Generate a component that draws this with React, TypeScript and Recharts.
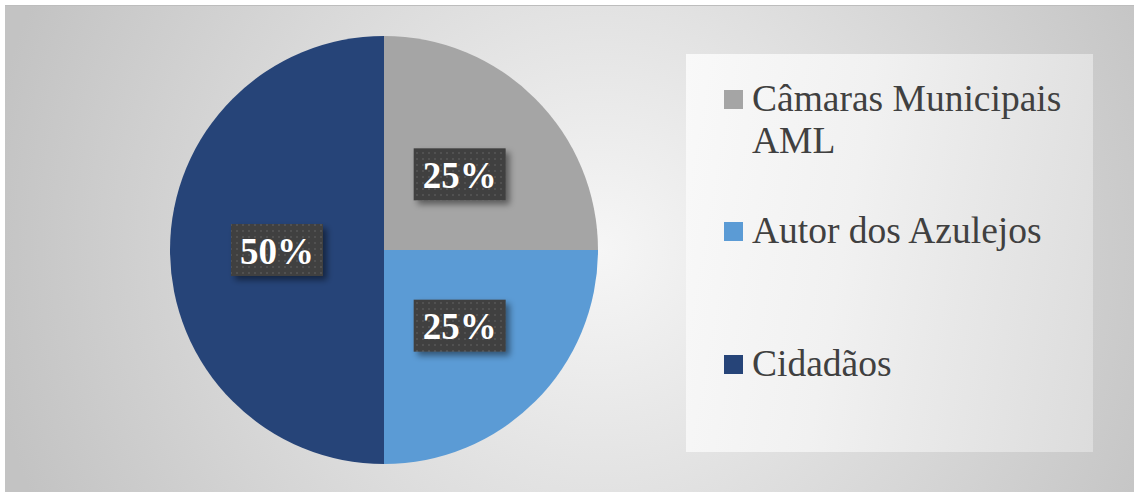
import React from 'react';
import { PieChart, Pie, Cell, Legend } from 'recharts';

const categories = ['Câmaras Municipais AML', 'Autor dos Azulejos', 'Cidadãos'];
const values = [25, 25, 50];
const colors = ['#A5A5A5', '#5B9BD5', '#264478'];

const data = categories.map((name, i) => ({ name, value: values[i] }));

const RADIAN = Math.PI / 180;

const renderLabel = (props: any) => {
  const { cx, cy, midAngle, outerRadius, percent, index } = props;
  const r = outerRadius * 0.5;
  const x = cx + r * Math.cos(-midAngle * RADIAN);
  const y = cy + r * Math.sin(-midAngle * RADIAN);
  const w = 92;
  const h = 52;
  const pid = `dots-${index}`;
  const fid = `shadow-${index}`;
  return (
    <g key={`lbl-${index}`}>
      <defs>
        <pattern id={pid} x="0" y="0" width="6" height="6" patternUnits="userSpaceOnUse">
          <rect width="6" height="6" fill="#404040" />
          <circle cx="3" cy="3" r="1.1" fill="#555555" />
        </pattern>
        <filter id={fid} x="-20%" y="-20%" width="150%" height="160%">
          <feDropShadow dx="4" dy="4" stdDeviation="3" floodColor="#000" floodOpacity="0.45" />
        </filter>
      </defs>
      <rect x={x - w / 2} y={y - h / 2} width={w} height={h} fill={`url(#${pid})`} filter={`url(#${fid})`} />
      <text
        x={x}
        y={y + 1}
        textAnchor="middle"
        dominantBaseline="central"
        fill="#ffffff"
        fontFamily="'Liberation Serif', 'Times New Roman', serif"
        fontWeight="bold"
        fontSize={37}
      >
        {`${Math.round(percent * 100)}%`}
      </text>
    </g>
  );
};

const itemTops = [24, 156, 289];

const renderLegend = (props: any) => {
  const payload: any[] = props.payload || [];
  const ordered = categories.map((c) => payload.find((p: any) => p.value === c)).filter(Boolean);
  return (
    <div
      style={{
        position: 'relative',
        width: 407,
        height: 398,
        background: 'linear-gradient(100deg, #f9f9f9 0%, #f1f1f1 40%, #dcdcdc 100%)',
        fontFamily: "'Liberation Serif', 'Times New Roman', serif",
        fontSize: 37.5,
        lineHeight: '42px',
        color: '#404040',
      }}
    >
      {ordered.map((entry: any, i: number) => (
        <div key={entry.value} style={{ position: 'absolute', left: 38, top: itemTops[i], display: 'flex', alignItems: 'flex-start' }}>
          <div style={{ width: 19, height: 19, background: entry.color, marginTop: 12, marginRight: 9, flexShrink: 0 }} />
          <div style={{ width: 330, textAlign: 'left' }}>{entry.value}</div>
        </div>
      ))}
    </div>
  );
};

export default function App() {
  return (
    <div style={{ position: 'absolute', left: 0, top: 0, width: 1134, height: 492, background: '#ffffff' }}>
      <svg width={1134} height={492} style={{ position: 'absolute', left: 0, top: 0 }}>
        <defs>
          <radialGradient id="bg" cx="600" cy="250" r="620" gradientUnits="userSpaceOnUse">
            <stop offset="0%" stopColor="#f6f6f6" />
            <stop offset="100%" stopColor="#c3c3c3" />
          </radialGradient>
        </defs>
        <rect x={5} y={5} width={1129} height={487} fill="url(#bg)" />
        <line x1={5} y1={5.5} x2={1134} y2={5.5} stroke="#bdbdbd" strokeWidth={1} />
      </svg>
      <div style={{ position: 'absolute', left: 0, top: 0 }}>
        <PieChart width={1134} height={492} margin={{ top: 0, right: 0, bottom: 0, left: 0 }}>
          <Pie
            data={data}
            dataKey="value"
            nameKey="name"
            cx={384}
            cy={250}
            outerRadius={214}
            startAngle={90}
            endAngle={-270}
            stroke="none"
            isAnimationActive={false}
            labelLine={false}
            label={renderLabel}
          >
            {data.map((d, i) => (
              <Cell key={d.name} fill={colors[i]} />
            ))}
          </Pie>
          <Legend
            content={renderLegend}
            wrapperStyle={{ position: 'absolute', left: 686, top: 54, width: 407, height: 398 }}
          />
        </PieChart>
      </div>
    </div>
  );
}
